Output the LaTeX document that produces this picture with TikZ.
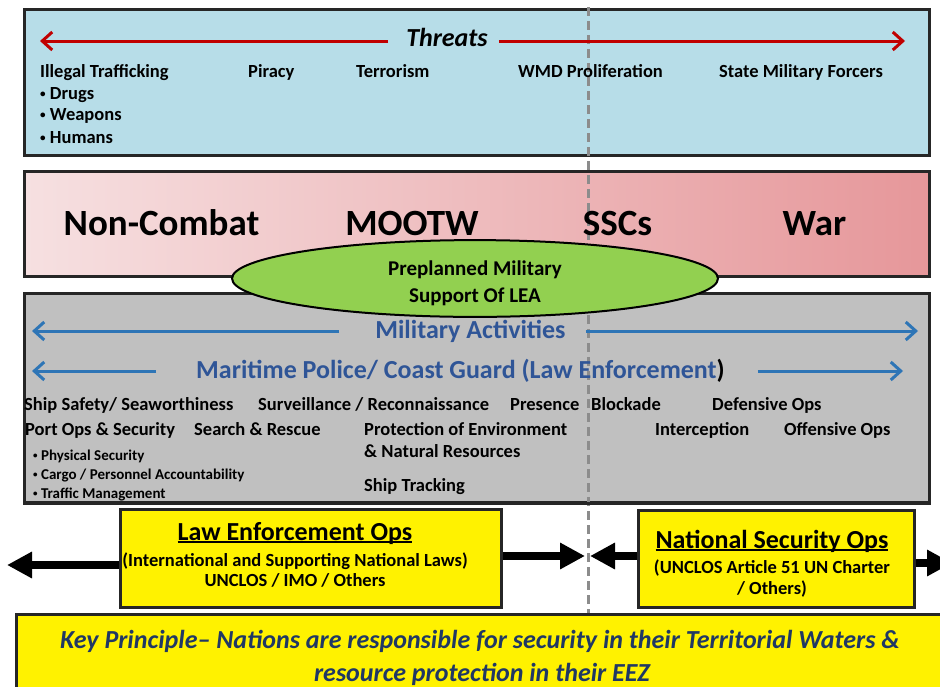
\documentclass[tikz,border=0pt]{standalone}
\usepackage{fontspec}
\usepackage{graphicx}
\setmainfont{Carlito}
\usetikzlibrary{arrows.meta,shapes.geometric}
\definecolor{threatfill}{HTML}{B7DDE8}
\definecolor{combatl}{HTML}{F6E0E1}
\definecolor{combatr}{HTML}{E6979A}
\definecolor{actfill}{HTML}{C0C0C0}
\definecolor{leafill}{HTML}{92D050}
\definecolor{threatred}{HTML}{C00000}
\definecolor{actarrow}{HTML}{2E75B6}
\definecolor{acttext}{HTML}{2F5597}
\definecolor{keytext}{HTML}{203864}
\definecolor{dividergray}{HTML}{8C8C8C}
\newcommand\ulttl[1]{\setbox0\hbox{#1}\rlap{\rule[-2.5pt]{\wd0}{1.6pt}}\box0}
\newcommand\tinybullet{\raisebox{0.22ex}{\scalebox{0.6}{•}}}
\begin{document}
\begin{tikzpicture}[x=1pt,y=-1pt,
  panel/.style={draw=black!85,line width=2.5pt,anchor=north west,inner sep=0pt},
  opsbox/.style={panel,fill=yellow},
  lbl/.style={anchor=base west,inner sep=0pt,font=\fontsize{18.5}{18.5}\selectfont\bfseries},
  sublbl/.style={lbl,font=\fontsize{15}{15}\selectfont\bfseries},
  phase/.style={anchor=base,inner sep=0pt,font=\fontsize{37}{37}\selectfont\bfseries},
  heading/.style={anchor=base,inner sep=0pt,font=\fontsize{26}{26}\selectfont\bfseries,text=acttext},
  opsline/.style={anchor=base,inner sep=0pt,font=\fontsize{18.5}{18.5}\selectfont\bfseries},
  opsttl/.style={anchor=base,inner sep=0pt,font=\fontsize{26}{26}\selectfont\bfseries},
  keyline/.style={anchor=base,inner sep=0pt,font=\fontsize{26}{26}\selectfont\bfseries\itshape,text=keytext},
  redarrow/.style={threatred,line width=3pt,-{Straight Barb[length=10pt,width=18pt]}},
  bluearrow/.style={actarrow,line width=3pt,-{Straight Barb[length=10pt,width=18pt]}},
  opsarrow/.style={line width=8pt,-{Triangle[length=25pt,width=25pt]}},
  divider/.style={dividergray,line width=3pt,dash pattern=on 9pt off 5pt}]
\useasboundingbox (0,0) rectangle (940,686);
\clip (0,0) rectangle (940,686);

\node[panel,fill=threatfill,minimum width=905,minimum height=146] (threatbox) at (23,8) {};
\node[panel,left color=combatl,right color=combatr,minimum width=905,minimum height=105] (combat) at (23,170) {};
\node[panel,fill=actfill,minimum width=905,minimum height=209] (actbox) at (23,292) {};
\node[opsbox,minimum width=381,minimum height=98] (leo) at (119,508) {};
\node[opsbox,minimum width=276,minimum height=97] (nso) at (637,509) {};
\node[opsbox,minimum width=945,minimum height=110] (keybox) at (15,613) {};

\draw[divider] (588,7) -- (588,613);

\node[anchor=base,inner sep=0pt,font=\fontsize{26}{26}\selectfont\bfseries\itshape] (threats) at (447,46) {Threats};
\coordinate (thl) at (40,41);
\coordinate (thr) at (905,41);
\draw[redarrow,shorten <=18pt] (threats.west |- thl) -- (thl);
\draw[redarrow,shorten <=11pt] (threats.east |- thr) -- (thr);

\node[lbl] (traf) at (40,77) {Illegal Trafficking};
\node[lbl] (drugs) at (40,99) {\tinybullet\ Drugs};
\node[lbl] (weapons) at (40,120) {\tinybullet\ Weapons};
\node[lbl] (humans) at (40,143) {\tinybullet\ Humans};
\node[lbl] (piracy) at (248,77) {Piracy};
\node[lbl] (terror) at (356,77) {Terrorism};
\node[lbl] (wmd) at (518,77) {WMD Proliferation};
\node[lbl] (statemil) at (719,77) {State Military Forcers};

\node[phase] (noncombat) at (161.5,235) {Non-Combat};
\node[phase] (mootw) at (412,235) {MOOTW};
\node[phase] (sscs) at (617.5,235) {SSCs};
\node[phase] (war) at (814.5,235) {War};

\node[ellipse,draw=black,line width=2pt,fill=leafill,minimum width=486,minimum height=73,inner sep=0pt,align=center,font=\fontsize{21}{27}\selectfont\bfseries] (lea) at (475,278.5) {\rule{0pt}{24pt}Preplanned Military\\Support Of LEA};

\node[heading] (milact) at (470.5,338) {Military Activities};
\coordinate (mal) at (32,331);
\coordinate (mar) at (918,331);
\draw[bluearrow,shorten <=36pt] (milact.west |- mal) -- (mal);
\draw[bluearrow,shorten <=20pt] (milact.east |- mar) -- (mar);

\node[heading] (police) at (460.5,378) {Maritime Police/ Coast Guard (Law Enforcement\textcolor{black}{)}};
\coordinate (pol) at (32,371);
\coordinate (por) at (903,371);
\draw[bluearrow,shorten <=40pt] (police.west |- pol) -- (pol);
\draw[bluearrow,shorten <=33pt] (police.east |- por) -- (por);

\node[lbl] (safety) at (24,410) {Ship Safety/ Seaworthiness};
\node[lbl] (surv) at (258,410) {Surveillance / Reconnaissance};
\node[lbl] (presence) at (510,410) {Presence};
\node[lbl] (blockade) at (591,410) {Blockade};
\node[lbl] (defops) at (712,410) {Defensive Ops};
\node[lbl] (portops) at (25,435) {Port Ops \& Security};
\node[lbl] (sar) at (194,435) {Search \& Rescue};
\node[lbl] (protect) at (364,435) {Protection of Environment};
\node[lbl] (natres) at (364,457) {\& Natural Resources};
\node[lbl] (tracking) at (364,491) {Ship Tracking};
\node[lbl] (intercept) at (655,435) {Interception};
\node[lbl] (offops) at (784,435) {Offensive Ops};
\node[sublbl] (physsec) at (33,460) {\tinybullet\ Physical Security};
\node[sublbl] (cargo) at (33,479) {\tinybullet\ Cargo / Personnel Accountability};
\node[sublbl] (traffic) at (33,498) {\tinybullet\ Traffic Management};
\draw[black!85,line width=2.5pt] (actbox.south west) -- (actbox.south east);

\node[opsttl] (leottl) at (295,540) {\ulttl{Law Enforcement Ops}};
\node[opsline] (leolaws) at (295,566) {(International and Supporting National Laws)};
\node[opsline] (leoimo) at (295,586) {UNCLOS / IMO / Others};
\node[opsttl] (nsottl) at (772,548) {\ulttl{National Security Ops}};
\node[opsline] (nsoart) at (772,573) {(UNCLOS Article 51 UN Charter};
\node[opsline] (nsooth) at (772,594) {/ Others)};

\coordinate (opl) at (7,565);
\coordinate (opml) at (585,556);
\coordinate (opmr) at (590,556);
\coordinate (opr) at (952,563);
\draw[opsarrow] (leo.west |- opl) -- (opl);
\draw[opsarrow] (leo.east |- opml) -- (opml);
\draw[opsarrow] (nso.west |- opmr) -- (opmr);
\draw[opsarrow] (nso.east |- opr) -- (opr);

\node[keyline] (key1) at (480,648) {Key Principle– Nations are responsible for security in their Territorial Waters \&};
\node[keyline] (key2) at (482,681) {resource protection in their EEZ};
\end{tikzpicture}
\end{document}
